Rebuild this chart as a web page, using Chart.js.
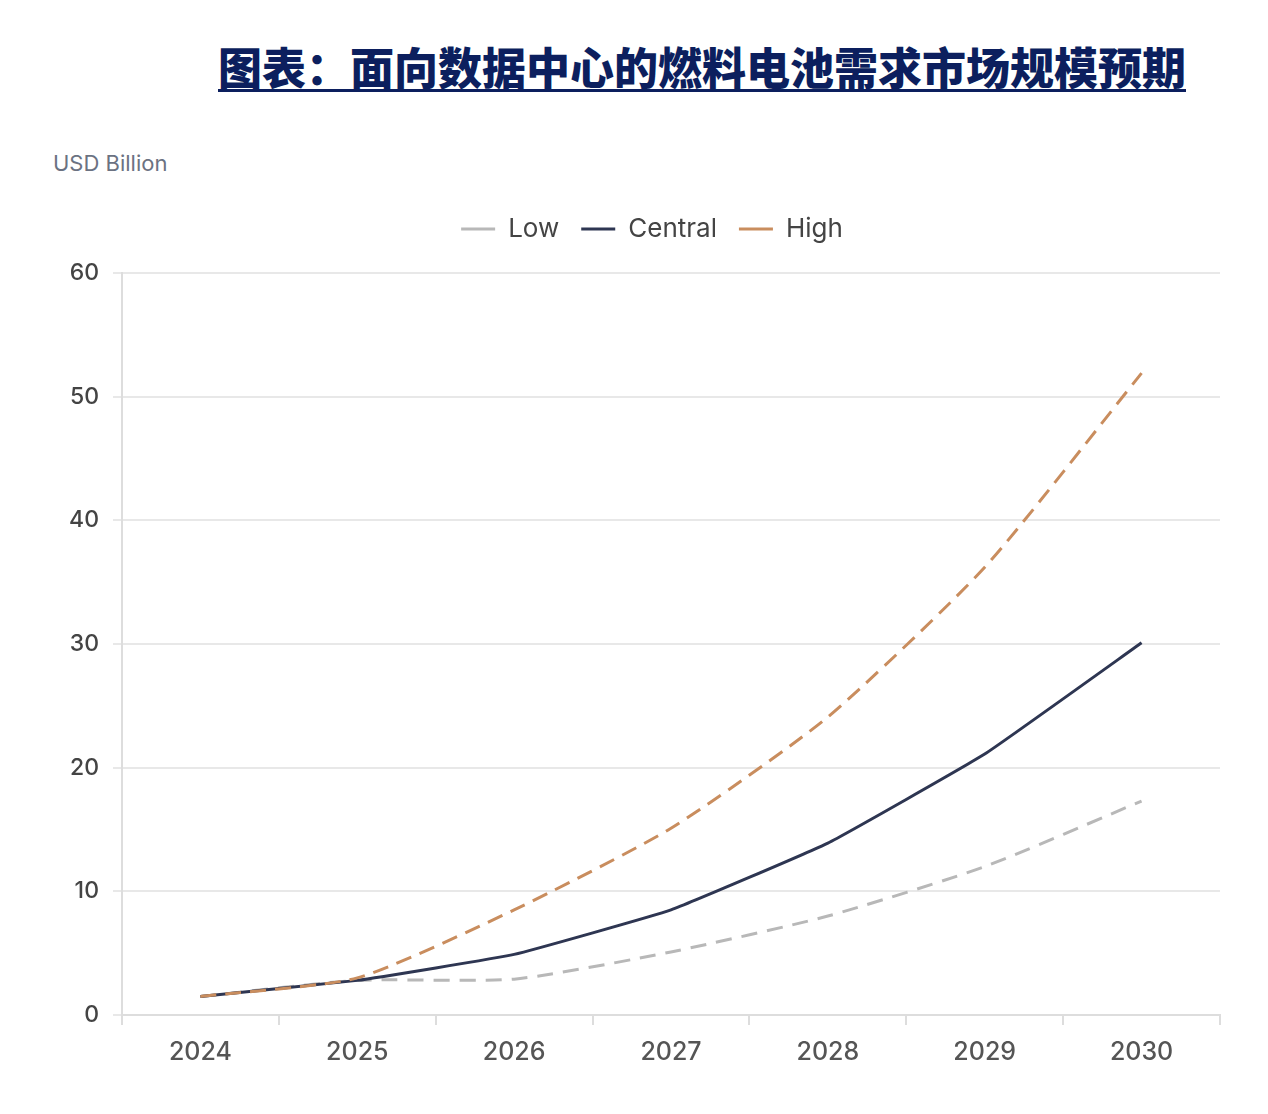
<!DOCTYPE html>
<html>
<head>
<meta charset="utf-8">
<script src="https://cdn.jsdelivr.net/npm/chart.js@4.4.1/dist/chart.umd.min.js"></script>
<style>
  html, body { margin: 0; padding: 0; background: #fff; overflow: hidden; }
  #title {
    position: absolute; left: 218px; top: 38px; margin: 0;
    font-family: "Noto Sans CJK SC", sans-serif; font-weight: 900;
    font-size: 44px; line-height: 56px; color: #0c1f5e;
    text-decoration: underline; text-decoration-thickness: 3px; text-underline-offset: 4px;
    white-space: nowrap;
  }
  #unit {
    position: absolute; left: 53px; top: 150px;
    font-family: Inter, "Open Sans", sans-serif; font-size: 22px; color: #6b7282;
  }
  #wrap { position: absolute; left: 0; top: 180px; width: 1240px; height: 900px; }
</style>
</head>
<body>
<h1 id="title">图表：面向数据中心的燃料电池需求市场规模预期</h1>
<div id="unit">USD Billion</div>
<div id="wrap"><canvas id="myChart"></canvas></div>
<script>
// values (USD Billion)
var years = ['2024', '2025', '2026', '2027', '2028', '2029', '2030'];
var low = [1.5, 2.8, 2.9, 5.1, 8.0, 12.0, 17.3];
var central = [1.5, 2.8, 4.9, 8.5, 13.9, 21.1, 30.1];
var high = [1.5, 3.0, 8.5, 15.1, 24.1, 36.2, 51.9];

var ctx = document.getElementById('myChart').getContext('2d');

// extra room under the legend
var legendGap = {
  id: 'legendGap',
  afterInit: function(chart) {
    var fit = chart.legend.fit;
    chart.legend.fit = function() {
      fit.call(this);
      this.height += 21;
    };
  }
};

var chart = new Chart(ctx, {
  type: 'line',
  data: {
    labels: years,
    datasets: [{
      label: 'Low',
      data: low,
      borderColor: '#b8b8b8',
      borderWidth: 3,
      borderDash: [16, 10],
      tension: 0.2,
      pointRadius: 0,
      order: 3
    }, {
      label: 'Central',
      data: central,
      borderColor: '#2e3652',
      borderWidth: 3,
      tension: 0.1,
      pointRadius: 0,
      order: 2
    }, {
      label: 'High',
      data: high,
      borderColor: '#c98d5e',
      borderWidth: 3,
      borderDash: [16, 9],
      tension: 0.2,
      pointRadius: 0,
      order: 1
    }]
  },
  plugins: [legendGap],
  options: {
    responsive: true,
    maintainAspectRatio: false,
    animation: false,
    layout: { padding: { left: 84, right: 20, top: 14, bottom: 0 } },
    plugins: {
      tooltip: { enabled: false },
      legend: {
        position: 'top',
        labels: {
          usePointStyle: true,
          pointStyle: 'line',
          pointStyleWidth: 34,
          boxHeight: 3,
          padding: 22,
          color: '#444',
          font: { family: 'Inter, "Open Sans", sans-serif', size: 26 },
          sort: function(a, b) { return a.datasetIndex - b.datasetIndex; }
        }
      }
    },
    scales: {
      x: {
        offset: true,
        grid: {
          display: true,
          drawOnChartArea: false,
          offset: true,
          tickLength: 10,
          color: '#dddddd',
          lineWidth: 2
        },
        border: { color: '#dddddd', width: 2 },
        ticks: {
          color: '#555',
          padding: 12,
          font: { family: 'Inter, "Open Sans", sans-serif', size: 25, weight: 500 }
        },
        afterFit: function(scale) { scale.height = 65; }
      },
      y: {
        min: 0,
        max: 60,
        grid: {
          color: '#e8e8e8',
          lineWidth: 2,
          tickLength: 9
        },
        border: { color: '#dddddd', width: 2 },
        ticks: {
          stepSize: 10,
          color: '#444',
          padding: 14,
          font: { family: 'Inter, "Open Sans", sans-serif', size: 23, weight: 500 }
        },
        afterFit: function(scale) {
          scale.width = 38;
          // labels stick out to the left of the narrow axis box, so no clipping
          scale._computeLabelArea = function() {};
        }
      }
    }
  }
});
</script>
</body>
</html>
